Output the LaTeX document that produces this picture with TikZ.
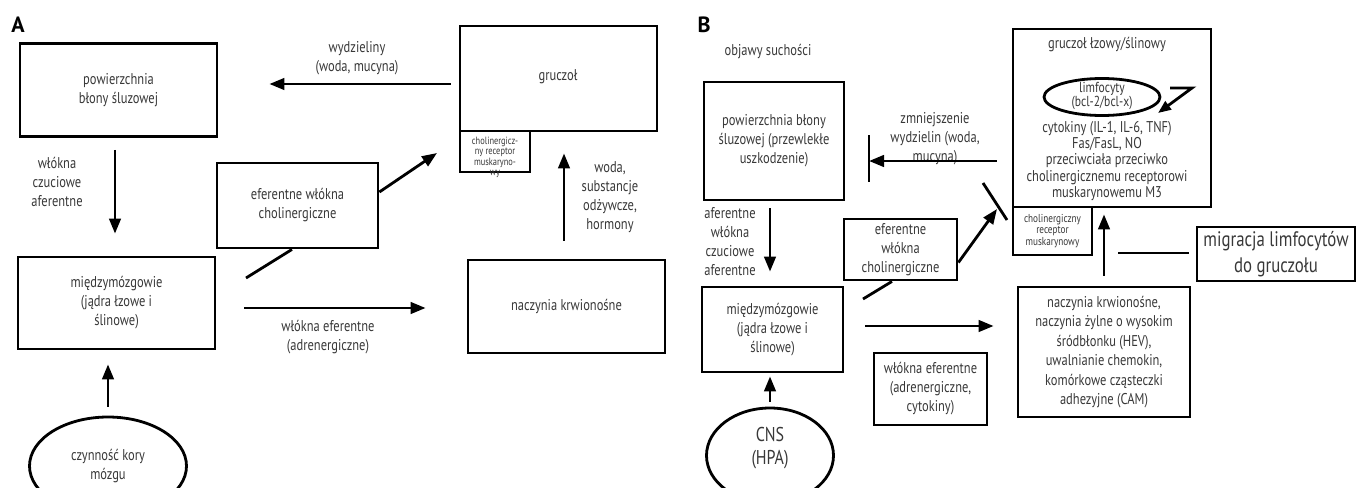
\documentclass[tikz,border=0pt]{standalone}
\usepackage{fontspec}
\setmainfont{PT Sans}[FakeStretch=0.8]
\newfontfamily\panelfont{PT Sans}
\usetikzlibrary{arrows.meta,shapes.geometric,calc}
\newcommand\mytxt{\fontsize{15.6}{19}\selectfont}
\newcommand\mytxtB{\fontsize{15.6}{16.3}\selectfont}
\newcommand\mysmall{\fontsize{10.5}{10.3}\selectfont}
\newcommand\mysmallB{\fontsize{11.5}{11.5}\selectfont}
\begin{document}
\begin{tikzpicture}[x=1pt,y=-1pt,
  box/.style={draw, line width=2.8pt, inner sep=0pt, align=center, font=\mytxt, text=black!78},
  oval/.style={draw, ellipse, line width=2.8pt, inner sep=0pt, align=center, font=\mytxt, text=black!78},
  txt/.style={align=center, inner sep=0pt, font=\mytxt, text=black!78},
  arr/.style={line width=2.8pt, -{Triangle[length=15pt,width=11.5pt]}},
  ln/.style={line width=2.8pt},
  bar/.style={line width=2.8pt},
  panel/.style={font=\panelfont\fontsize{22}{22}\selectfont\bfseries, inner sep=0pt}
]
\useasboundingbox (0,0) rectangle (1356,487);

% ---------------- Panel A ----------------
\node[panel] (lblA) at (18,25) {A};
\node[box, minimum width=197pt, minimum height=93pt] (pA) at (118.5,90) {powierzchnia\\błony  śluzowej};
\node[box, minimum width=197pt, minimum height=92pt] (mA) at (116.5,303) {międzymózgowie\\(jądra łzowe i\\ślinowe)};
\node[box, minimum width=161pt, minimum height=85pt] (efA) at (297.5,205.5) {eferentne włókna\\cholinergiczne};
\node[box, minimum width=197pt, minimum height=105pt] (gA) at (558.5,78.5) {};
\node[txt] (gAt) at (558,77) {gruczoł};
\node[box, minimum width=70pt, minimum height=41pt] (rA) at (495,151.5) {};
\node[txt, font=\mysmall] (rAt) at (495,157.5) {cholinergicz-\\ny  receptor\\muskaryno-\\wy};
\node[box, minimum width=197pt, minimum height=93pt] (nA) at (566.5,306.5) {naczynia  krwionośne};
\node[oval, minimum width=157pt, minimum height=98pt] (eA) at (108,466) {czynność  kory\\mózgu};

\node[txt] (lwA) at (357,58) {wydzieliny\\(woda, mucyna)};
\node[txt] (lcA) at (57,182) {włókna\\czuciowe\\aferentne};
\node[txt] (lsA) at (610,197) {woda,\\substancje\\odżywcze,\\hormony};
\node[txt] (leA) at (328,337) {włókna eferentne\\(adrenergiczne)};

\coordinate (aEnd) at (437,153);
\coordinate (lEndA) at (246,278);

\draw[arr, shorten <=12pt, shorten >=22pt] ([xshift=-3.5pt]pA.south) -- ([xshift=-3.5pt]pA.south |- mA.north);
\draw[arr, shorten <=9pt, shorten >=14pt] (eA.north) -- (eA.north |- mA.south);
\draw[arr, shorten <=8pt, shorten >=51pt] ([yshift=-5.5pt]gA.west) -- ([yshift=-5.5pt]gA.west -| pA.east);
\draw[arr] ([yshift=13.5pt]efA.east) -- (aEnd);
\draw[ln] ([xshift=-5.5pt]efA.south) -- (lEndA);
\draw[arr, shorten <=28pt, shorten >=41pt] ([yshift=-5pt]mA.east) -- ([yshift=-5pt]mA.east -| nA.west);
\draw[arr, shorten <=18pt, shorten >=21pt] ([xshift=-2.5pt]nA.north) -- ([xshift=-2.5pt]nA.north |- gA.south);

% ---------------- Panel B ----------------
\node[panel] (lblB) at (704,25) {B};
\node[txt] (objB) at (768,52) {objawy  suchości};
\node[box, minimum width=140pt, minimum height=118pt] (pB) at (774,141) {powierzchnia  błony\\śluzowej (przewlekłe\\uszkodzenie)};
\node[box, minimum width=141pt, minimum height=85pt] (mB) at (772.5,329.5) {międzymózgowie\\(jądra łzowe i\\ślinowe)};
\node[box, minimum width=113pt, minimum height=61pt] (efB) at (900.5,249.5) {eferentne\\włókna\\cholinergiczne};
\node[box, minimum width=113pt, minimum height=72pt] (adB) at (930.5,389) {włókna eferentne\\(adrenergiczne,\\cytokiny)};
\node[box, minimum width=198pt, minimum height=178pt] (gB) at (1112,118) {};
\node[txt] (gBt) at (1107,45) {gruczoł  łzowy/ślinowy};
\node[oval, minimum width=116pt, minimum height=37pt] (limf) at (1102,97) {};
\node[txt, font=\fontsize{14.5}{14}\selectfont] (limfT) at (1102,96) {limfocyty\\(bcl-2/bcl-x)};
\node[txt, font=\mytxtB] (cytB) at (1107,161) {cytokiny (IL-1, IL-6, TNF)\\Fas/FasL, NO\\przeciwciała przeciwko\\cholinergicznemu  receptorowi\\muskarynowemu M3};
\node[box, minimum width=79pt, minimum height=48pt, font=\mysmallB] (rB) at (1052.5,231) {cholinergiczny\\receptor\\muskarynowy};
\node[box, minimum width=158pt, minimum height=54pt, font=\fontsize{21}{26}\selectfont] (migB) at (1276,254) {migracja  limfocytów\\do  gruczołu};
\node[box, minimum width=172pt, minimum height=130pt, font=\fontsize{15.6}{19.5}\selectfont] (nB) at (1104,352) {naczynia  krwionośne,\\naczynia żylne o wysokim\\śródbłonku  (HEV),\\uwalnianie  chemokin,\\komórkowe cząsteczki\\adhezyjne  (CAM)};
\node[oval, minimum width=127pt, minimum height=95pt] (cns) at (770,455.5) {};
\node[txt, font=\fontsize{20}{23}\selectfont] (cnsT) at (770,448.5) {CNS\\(HPA)};

\node[txt] (lzB) at (935,139) {zmniejszenie\\wydzielin  (woda,\\mucyna)};
\node[txt] (laB) at (730,242) {aferentne\\włókna\\czuciowe\\aferentne};

\coordinate (barB1) at (869,135);
\coordinate (barB2) at (869,182);
\coordinate (tipB) at (997,209);
\coordinate (barC1) at (983,183);
\coordinate (barC2) at (1007,220);
\coordinate (lEndB) at (863,299);
\coordinate (migL) at (1118,253);
\coordinate (zA) at (1170,88);
\coordinate (zB) at (1192,88);
\coordinate (zC) at (1158,113);

\draw[arr, shorten <=15pt] (gB.west |- 0,161) -- (barB1 |- 0,161);
\draw[bar] (barB1) -- (barB2);
\draw[arr, shorten <=7pt, shorten >=14pt] ([xshift=-4pt]pB.south) -- ([xshift=-4pt]pB.south |- mB.north);
\draw[arr, shorten <=5pt, shorten >=3pt] (cns.north) -- (cns.north |- mB.south);
\draw[ln] ([xshift=-8.5pt]efB.south) -- (lEndB);
\draw[arr] ([yshift=-13pt]efB.east) -- (tipB);
\draw[bar] (barC1) -- (barC2);
\draw[arr, shorten <=21pt, shorten >=23pt] ([yshift=3.5pt]mB.east) -- ([yshift=3.5pt]mB.east -| nB.west);
\draw[arr, shorten <=10pt, shorten >=6pt] (nB.north) -- (nB.north |- gB.south);
\draw[ln] (migB.west |- migL) ++(-7pt,0) -- (migL);
\draw[ln, -{Triangle[length=13pt,width=10pt]}] (zA) -- (zB) -- (zC);
\end{tikzpicture}
\end{document}
